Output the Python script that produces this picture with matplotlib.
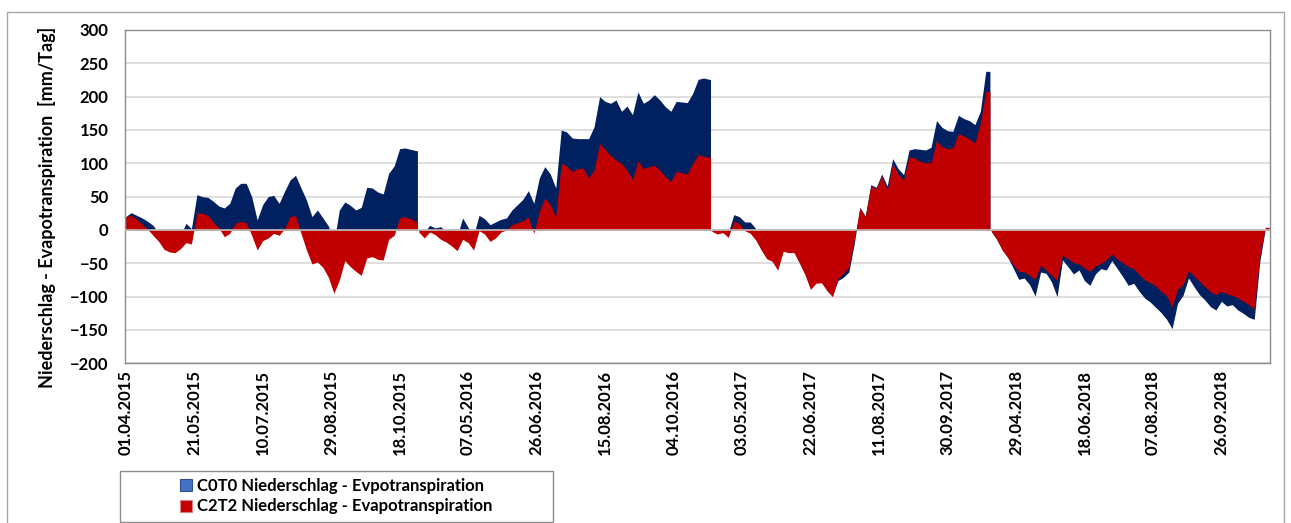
import numpy as np
import matplotlib
matplotlib.use("Agg")
import matplotlib.pyplot as plt
from matplotlib.patches import Patch, Rectangle

plt.rcParams['font.family'] = ['Lato', 'DejaVu Sans']
plt.rcParams['font.weight'] = 'bold'

season_len = [214, 214, 204, 204]   # 01.04.-31.10.2015/2016, 11.04.-31.10.2017/2018
step = 4

c0t0_2015 = [20, 26, 22, 18, 13, 7, -5, -10, -12, -12, -8, 10, 2, 53, 50, 49, 43, 36, 33, 40,
             63, 70, 70, 50, 15, 38, 50, 52, 40, 58, 75, 82, 63, 45, 20, 30, 18, 6, -20, 30,
             42, 37, 30, 34, 64, 63, 57, 54, 85, 96, 122, 123, 121, 119]
c2t2_2015 = [20, 22, 16, 9, 1, -8, -17, -29, -33, -34, -28, -19, -21, 26, 25, 22, 12, 3, -10, -5,
             10, 13, 11, -8, -30, -16, -12, -5, -8, 2, 20, 22, -5, -30, -51, -48, -56, -71, -95, -75,
             -46, -55, -62, -68, -42, -40, -44, -45, -14, -8, 18, 20, 17, 13]

c0t0_2016 = [-1, -3, 7, 3, 5, -3, -8, -10, 18, 4, -8, 22, 17, 8, 12, 16, 18, 30, 38, 46,
             59, 40, 78, 95, 84, 63, 150, 147, 138, 137, 137, 137, 155, 200, 193, 190, 195, 178, 186, 173,
             207, 190, 195, 203, 195, 185, 178, 193, 192, 191, 205, 226, 228, 226]
c2t2_2016 = [-3, -12, -3, -7, -14, -18, -24, -31, -14, -19, -30, -1, -6, -17, -12, -3, 0, 8, 11, 14,
             20, -5, 28, 48, 38, 20, 100, 96, 88, 92, 93, 78, 90, 130, 121, 112, 105, 100, 90, 76,
             104, 92, 95, 97, 90, 80, 73, 88, 86, 84, 100, 113, 111, 109]

c0t0_2017 = [-1, -2, -2, -4, 23, 20, 12, 12, 2, -28, -42, -46, -59, -31, -33, -33, -49, -66, -88, -79,
             -78, -90, -99, -76, -71, -63, -20, 34, 21, 68, 64, 84, 66, 107, 92, 83, 120, 122, 121, 120,
             124, 164, 154, 149, 148, 172, 167, 164, 158, 178, 238]
c2t2_2017 = [-2, -6, -4, -11, 13, 10, -1, -5, -15, -30, -43, -47, -60, -32, -34, -34, -50, -67, -89, -80,
             -79, -91, -100, -73, -65, -56, -14, 33, 20, 66, 62, 81, 60, 99, 84, 75, 110, 108, 103, 101,
             101, 134, 125, 122, 123, 145, 141, 137, 130, 160, 208]

c0t0_2018 = [-2, -14, -30, -41, -57, -74, -72, -82, -99, -63, -65, -78, -100, -45, -55, -66, -60, -76, -83, -66,
             -58, -60, -46, -58, -70, -83, -80, -92, -102, -108, -116, -124, -134, -148, -110, -98, -72, -85, -97, -105,
             -115, -120, -107, -114, -112, -120, -125, -131, -134, -48, 1]
c2t2_2018 = [-2, -14, -30, -41, -52, -62, -63, -68, -74, -53, -60, -68, -76, -38, -43, -49, -51, -57, -62, -54,
             -50, -45, -36, -44, -49, -55, -58, -67, -75, -79, -84, -92, -99, -115, -89, -82, -61, -69, -77, -85,
             -93, -97, -92, -96, -98, -102, -107, -112, -118, -40, 4]

c0t0 = [c0t0_2015, c0t0_2016, c0t0_2017, c0t0_2018]
c2t2 = [c2t2_2015, c2t2_2016, c2t2_2017, c2t2_2018]

tick_labels = ['01.04.2015', '21.05.2015', '10.07.2015', '29.08.2015', '18.10.2015',
               '07.05.2016', '26.06.2016', '15.08.2016', '04.10.2016', '03.05.2017',
               '22.06.2017', '11.08.2017', '30.09.2017', '29.04.2018', '18.06.2018',
               '07.08.2018', '26.09.2018']

label_c0 = 'C0T0 Niederschlag - Evpotranspiration'
label_c2 = 'C2T2 Niederschlag - Evapotranspiration'
col_c0 = '#002060'
col_c2 = '#C00000'
FS = 12

W, H = 1291, 523
fig = plt.figure(figsize=(W / 100, H / 100), dpi=100)
ax = fig.add_axes([125 / W, 1 - 363.3 / H, (1270 - 125) / W, (363.3 - 30) / H])

starts = np.cumsum([0] + season_len[:-1])


def season_xy(start, length, vals):
    x = start + step * np.arange(len(vals))
    y = np.asarray(vals, dtype=float)
    # letzte Ablesung bis Saisonende halten
    x = np.append(x, start + length - 1)
    y = np.append(y, y[-1])
    return x, y


for vals_list, col in [(c0t0, col_c0), (c2t2, col_c2)]:
    for start, length, vals in zip(starts, season_len, vals_list):
        x, y = season_xy(start, length, vals)
        ax.fill_between(x, 0, y, color=col, lw=0, zorder=2)

ax.set_xlim(-0.5, sum(season_len) - 0.5)
ax.set_ylim(-200, 300)
ax.set_yticks(np.arange(-200, 301, 50))
ax.yaxis.grid(True, color='#d9d9d9', lw=1.2)
ax.set_axisbelow(True)
ax.axhline(0, color='#c8bcbc', lw=1.2, zorder=3)

ax.set_xticks(np.arange(len(tick_labels)) * 50)
ax.set_xticklabels(tick_labels, rotation=90, fontsize=FS, fontweight='bold')
ax.tick_params(axis='x', length=0, pad=5)
ax.tick_params(axis='y', length=0, pad=12, labelsize=FS)
for t in ax.get_yticklabels():
    t.set_fontweight('bold')
for s in ax.spines.values():
    s.set_color('#8c8c8c')
    s.set_linewidth(1.0)

fig.text(47 / W, 1 - 207 / H, 'Niederschlag - Evapotranspiration  [mm/Tag]',
         rotation=90, ha='center', va='center', fontsize=13, fontweight='bold')

# Rahmen des Diagrammbereichs
fig.patches.append(Rectangle((7 / W, -0.05), (1284 - 7) / W, 1 - 12 / H + 0.05,
                             transform=fig.transFigure, fill=False, ec='#a6a6a6', lw=1.0))

# Legende
fig.patches.append(Rectangle((120 / W, 1 - 522 / H), (553 - 120) / W, (522 - 471) / H,
                             transform=fig.transFigure, fill=False, ec='#8c8c8c', lw=1.0))
handles = [Patch(facecolor='#4472C4', edgecolor='#2f528f', lw=0.8),
           Patch(facecolor=col_c2, edgecolor='#e08080', lw=0.8)]
fig.legend(handles, [label_c0, label_c2], loc='center', bbox_to_anchor=(336 / W, 1 - 496 / H),
           frameon=False, handlelength=0.75, handleheight=0.75, handletextpad=0.3,
           labelspacing=0.3, prop={'weight': 'bold', 'size': FS})

fig.savefig('out.png', dpi=100)
